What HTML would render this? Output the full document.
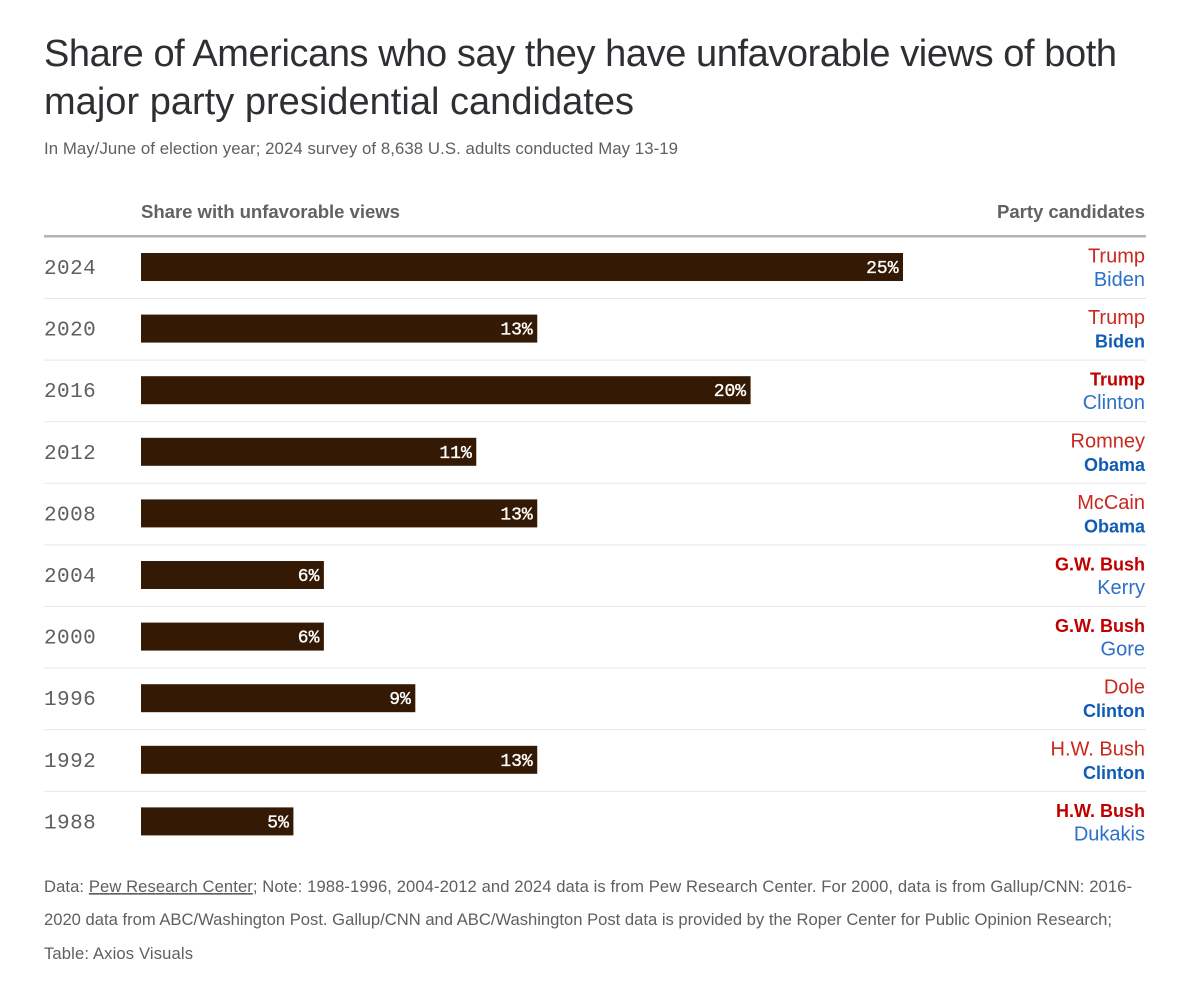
<!DOCTYPE html>
<html lang="en">
<head>
<meta charset="utf-8">
<title>Share of Americans with unfavorable views of both candidates</title>
<style>
  html, body { margin: 0; padding: 0; background: #ffffff; }
  body { width: 1200px; height: 993px; overflow: hidden; }
  svg { display: block; font-family: "Liberation Sans", sans-serif; }
</style>
</head>
<body>
<svg id="chart" xmlns="http://www.w3.org/2000/svg" width="1200" height="993" viewBox="0 0 1200 993">
  <rect x="0" y="0" width="1200" height="993" fill="#ffffff"/>
  <text x="44" y="66" font-size="38" fill="#2f2f33" textLength="1073" lengthAdjust="spacing">Share of Americans who say they have unfavorable views of both</text>
  <text x="44" y="114" font-size="38" fill="#2f2f33" textLength="590" lengthAdjust="spacing">major party presidential candidates</text>
  <text x="44" y="154" font-size="16.8" fill="#5f5f63" textLength="634" lengthAdjust="spacing">In May/June of election year; 2024 survey of 8,638 U.S. adults conducted May 13-19</text>
  <text x="141" y="218" font-size="18.6" font-weight="bold" fill="#626266" textLength="259" lengthAdjust="spacing">Share with unfavorable views</text>
  <text x="997" y="218" font-size="18.6" font-weight="bold" fill="#626266" textLength="148" lengthAdjust="spacing">Party candidates</text>
  <rect x="44" y="235" width="1102" height="2.5" fill="#b3b3b3"/>
  <g id="rows"></g>
  <text x="44" y="892" font-size="16.6" fill="#5f5f63" textLength="1088" lengthAdjust="spacing">Data: <tspan text-decoration="underline">Pew Research Center</tspan>; Note: 1988-1996, 2004-2012 and 2024 data is from Pew Research Center. For 2000, data is from Gallup/CNN: 2016-</text>
  <text x="44" y="925" font-size="16.6" fill="#5f5f63" textLength="1068" lengthAdjust="spacing">2020 data from ABC/Washington Post. Gallup/CNN and ABC/Washington Post data is provided by the Roper Center for Public Opinion Research;</text>
  <text x="44" y="959" font-size="16.6" fill="#5f5f63" textLength="149" lengthAdjust="spacing">Table: Axios Visuals</text>
</svg>
<script>
const years = ['2024', '2020', '2016', '2012', '2008', '2004', '2000', '1996', '1992', '1988'];
const shares = [25, 13, 20, 11, 13, 6, 6, 9, 13, 5];
const republicans = ['Trump', 'Trump', 'Trump', 'Romney', 'McCain', 'G.W. Bush', 'G.W. Bush', 'Dole', 'H.W. Bush', 'H.W. Bush'];
const democrats = ['Biden', 'Biden', 'Clinton', 'Obama', 'Obama', 'Kerry', 'Gore', 'Clinton', 'Clinton', 'Dukakis'];
const winners = ['', 'D', 'R', 'D', 'D', 'R', 'R', 'D', 'D', 'R'];

const NS = 'http://www.w3.org/2000/svg';
const rowsGroup = document.getElementById('rows');
const x0 = 141;
const unitWidth = 30.48;
const firstRowTop = 253;
const rowStep = 61.6;

function xScale(value) {
  return value * unitWidth;
}
function rowTop(index) {
  return firstRowTop + index * rowStep;
}
function addText(parent, content, x, y, size, fill, anchor, family, weight) {
  const t = document.createElementNS(NS, 'text');
  t.setAttribute('x', x);
  t.setAttribute('y', y);
  t.setAttribute('font-size', size);
  t.setAttribute('fill', fill);
  t.setAttribute('text-anchor', anchor);
  if (family) t.setAttribute('font-family', family);
  if (weight) t.setAttribute('font-weight', weight);
  t.textContent = content;
  parent.appendChild(t);
  return t;
}

years.forEach(function (year, i) {
  const top = rowTop(i);
  const mono = '"Liberation Mono", monospace';

  const yearLabel = addText(rowsGroup, year, 44, top + 21, 21, '#5f5f63', 'start', mono, null);
  yearLabel.setAttribute('letter-spacing', '0.45');
  
  

  const bar = document.createElementNS(NS, 'rect');
  bar.setAttribute('x', x0);
  bar.setAttribute('y', top);
  bar.setAttribute('width', xScale(shares[i]));
  bar.setAttribute('height', 28);
  bar.setAttribute('fill', '#341a05');
  
  
  rowsGroup.appendChild(bar);

  const value = addText(rowsGroup, shares[i] + '%', x0 + xScale(shares[i]) - 4.5, top + 20, 18, '#ffffff', 'end', mono, null);
  value.setAttribute('stroke', '#ffffff');
  value.setAttribute('stroke-width', '0.35');
  
  

  const repWon = winners[i] === 'R';
  const demWon = winners[i] === 'D';
  const rep = addText(rowsGroup, republicans[i], 1145, top + 9.5, repWon ? 18 : 20, repWon ? '#c00000' : '#c8281e', 'end', null, repWon ? 'bold' : null);
  
  

  const dem = addText(rowsGroup, democrats[i], 1145, top + 33, demWon ? 18 : 20, demWon ? '#0f5cb5' : '#2c70c8', 'end', null, demWon ? 'bold' : null);
  
  

  if (i < years.length - 1) {
    const rule = document.createElementNS(NS, 'rect');
    rule.setAttribute('x', 44);
    rule.setAttribute('y', top + 45);
    rule.setAttribute('width', 1102);
    rule.setAttribute('height', 1);
    rule.setAttribute('fill', '#e6e6e6');
    
    
    rowsGroup.appendChild(rule);
  }
});
</script>
</body>
</html>
